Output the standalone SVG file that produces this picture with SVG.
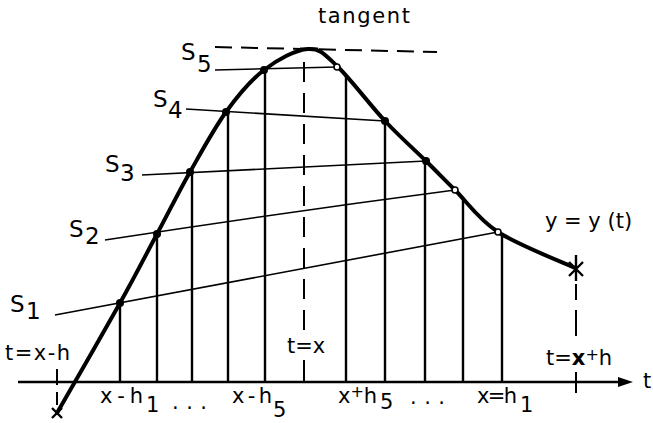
<svg xmlns="http://www.w3.org/2000/svg" width="653" height="423" viewBox="0 0 653 423">
<style>
  text { font-family: "DejaVu Sans", "Liberation Sans", sans-serif; fill: #000; }
  .lbl { font-size: 21px; }
  .s { font-size: 23px; }
  .thin { stroke: #000; stroke-width: 1.6; fill: none; }
  .vert { stroke: #000; stroke-width: 2.4; fill: none; }
  .curve { stroke: #000; stroke-width: 4; fill: none; stroke-linejoin: round; stroke-linecap: round; }
  .dash { stroke: #000; stroke-width: 2; fill: none; }
  .dotf { fill: #000; }
  .doth { fill: #fff; stroke: #000; stroke-width: 1.6; }
</style>
<rect width="653" height="423" fill="#fff"/>

<g id="axis">
  <line x1="18" y1="382" x2="622" y2="382" stroke="#000" stroke-width="2.6"/>
  <polygon points="618,377 633,382 618,387" fill="#000"/>
  <text class="lbl" x="643" y="388">t</text>
</g>

<g id="tangent">
  <line class="dash" x1="215" y1="47" x2="437" y2="52" stroke-dasharray="17 9"/>
  <text class="lbl" x="318" y="23" font-size="20" textLength="92" lengthAdjust="spacing">tangent</text>
</g>

<g id="secants">
  <line class="thin" x1="215" y1="70" x2="337" y2="67"/>
  <line class="thin" x1="186" y1="109" x2="385" y2="121"/>
  <line class="thin" x1="142" y1="175" x2="426" y2="161"/>
  <path class="thin" d="M105,240 Q280,213 455,190"/>
  <line class="thin" x1="55" y1="315" x2="498" y2="232"/>
</g>

<g id="verticals">
  <line class="vert" x1="120" y1="303" x2="120" y2="382"/>
  <line class="vert" x1="157" y1="234" x2="157" y2="382"/>
  <line class="vert" x1="192" y1="170" x2="192" y2="382"/>
  <line class="vert" x1="228" y1="112" x2="228" y2="382"/>
  <line class="vert" x1="265" y1="70" x2="265" y2="382"/>
  <line class="vert" x1="346" y1="75" x2="346" y2="382"/>
  <line class="vert" x1="385" y1="121" x2="385" y2="382"/>
  <line class="vert" x1="425" y1="161" x2="425" y2="382"/>
  <line class="vert" x1="463" y1="198" x2="463" y2="382"/>
  <line class="vert" x1="502" y1="234" x2="502" y2="382"/>
  <line class="dash" x1="304" y1="62" x2="304" y2="330" stroke-dasharray="20 11"/>
  <line class="dash" x1="304" y1="360" x2="304" y2="382"/>
</g>

<g id="curve">
  <path class="curve" d="M57,413 C67.5,394.7 103.3,332.8 120,303 C136.7,273.2 145.3,255.8 157,234 C168.7,212.2 178.5,192.3 190,172 C201.5,151.7 213.7,129 226,112 C238.3,95 250.3,80.5 264,70 C277.7,59.5 295.8,49.7 308,49 C320.2,48.3 324.2,54 337,66 C349.8,78 370.2,105.2 385,121 C399.8,136.8 414.3,149.5 426,161 C437.7,172.5 443,178.2 455,190 C467,201.8 478,219 498,232 C518,245 562.2,262 575,268"/>
  <line x1="300" y1="49" x2="318" y2="49" stroke="#000" stroke-width="3"/>
</g>

<g id="points">
  <circle class="dotf" cx="120" cy="303" r="4"/>
  <circle class="dotf" cx="157" cy="234" r="4"/>
  <circle class="dotf" cx="190" cy="172" r="4"/>
  <circle class="dotf" cx="226" cy="112" r="4"/>
  <circle class="dotf" cx="264" cy="70" r="4"/>
  <circle class="doth" cx="337" cy="67" r="3"/>
  <circle class="dotf" cx="385" cy="121" r="4"/>
  <circle class="dotf" cx="426" cy="161" r="4"/>
  <circle class="doth" cx="455" cy="190" r="3"/>
  <circle class="doth" cx="498" cy="232" r="3"/>
</g>

<g id="ends">
  <line x1="57" y1="369" x2="57" y2="385" stroke="#000" stroke-width="2"/>
  <line x1="57" y1="392" x2="57" y2="405" stroke="#000" stroke-width="2"/>
  <path d="M52,408 L62,418 M62,408 L52,418" stroke="#000" stroke-width="2.4" fill="none"/>
  <path d="M576,255 L576,281 M569,262 L583,276 M583,262 L569,276" stroke="#000" stroke-width="2.4" fill="none"/>
  <line x1="576" y1="284" x2="576" y2="300" stroke="#000" stroke-width="2"/>
  <line x1="576" y1="310" x2="576" y2="336" stroke="#000" stroke-width="2"/>
  <line x1="576" y1="372" x2="576" y2="393" stroke="#000" stroke-width="2"/>
</g>

<g id="labels">
  <text class="s" x="10" y="312">S</text><text class="s" x="26" y="319">1</text>
  <text class="s" x="69" y="237">S</text><text class="s" x="85" y="244">2</text>
  <text class="s" x="105" y="172">S</text><text class="s" x="120" y="181">3</text>
  <text class="s" x="153" y="107">S</text><text class="s" x="168" y="118">4</text>
  <text class="s" x="181" y="60">S</text><text class="s" x="197" y="72">5</text>

  <text class="lbl" x="5" y="360" textLength="65" lengthAdjust="spacing">t=x-h</text>
  <text class="lbl" x="287" y="353" font-size="20">t=x</text>
  <text class="lbl" x="546" y="365" font-size="20"><tspan>t=</tspan><tspan font-weight="bold">x</tspan><tspan dy="-5" font-size="16">+</tspan><tspan dy="5">h</tspan></text>
  <text class="lbl" x="545" y="228" font-size="20">y = y (t)</text>

  <text class="lbl" x="100" y="403" textLength="43" lengthAdjust="spacing">x-h</text><text class="lbl" x="146" y="412">1</text>
  <text class="lbl" x="172" y="409" textLength="35" lengthAdjust="spacing">. . .</text>
  <text class="lbl" x="232" y="403" textLength="40" lengthAdjust="spacing">x-h</text><text class="lbl" x="273" y="417">5</text>

  <text class="lbl" x="338" y="403">x<tspan dy="-6" font-size="16">+</tspan><tspan dy="6">h</tspan></text><text class="lbl" x="380" y="409">5</text>
  <text class="lbl" x="410" y="404" textLength="35" lengthAdjust="spacing">. . .</text>
  <text class="lbl" x="477" y="403" textLength="40" lengthAdjust="spacing">x=h</text><text class="lbl" x="520" y="412">1</text>
</g>
</svg>
